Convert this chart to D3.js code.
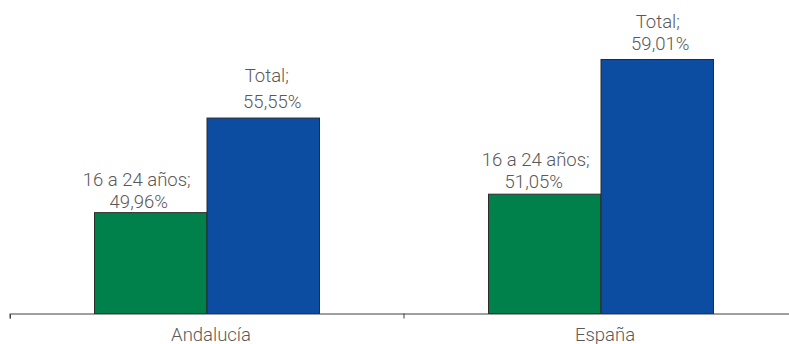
<!DOCTYPE html>
<html><head><meta charset="utf-8">
<script src="https://cdn.jsdelivr.net/npm/d3@7"></script>
<style>
html,body{margin:0;padding:0;background:#fff;}
svg text{font-family:Roboto,"Liberation Sans",Arial,sans-serif;font-weight:300;fill:#595959;}
</style></head>
<body><svg id="c" width="789" height="344"></svg>
<script>
// ---- data ----
const categories = ["Andalucía", "España"];
const seriesNames = ["16 a 24 años", "Total"];
const youthValues = [49.96, 51.05];
const totalValues = [55.55, 59.01];
const yDomain = [44, 62];

// ---- layout ----
const W = 789, H = 344;
const colors = {"16 a 24 años": "#00804a", "Total": "#0c4da2"};
// label nudges per bar: [dx line1, dx line2, gap above bar, line spacing]
const nudge = {
  "Andalucía|16 a 24 años": [-14, -12, 5, 22],
  "Andalucía|Total": [3.5, 9, 10, 26.5],
  "España|16 a 24 años": [-9, -11, 6, 22],
  "España|Total": [0.5, 3, 9, 22]
};
const fmt = v => d3.format(".2f")(v).replace(".", ",") + "%";

const rows = [];
categories.forEach((c, i) => {
  rows.push({cat: c, series: seriesNames[0], value: youthValues[i]});
  rows.push({cat: c, series: seriesNames[1], value: totalValues[i]});
});

const svg = d3.select("#c");
const x0 = d3.scaleBand().domain(categories).range([10, 798]).padding(0);
const x1 = d3.scaleBand().domain(seriesNames).range([84.5, 309.5]).padding(0);
const y = d3.scaleLinear().domain(yDomain).range([313.5, 8.9]);

svg.append("g").selectAll("rect").data(rows).join("rect")
  .attr("x", d => x0(d.cat) + x1(d.series))
  .attr("y", d => y(d.value))
  .attr("width", x1.bandwidth())
  .attr("height", d => y(yDomain[0]) - y(d.value))
  .attr("fill", d => colors[d.series])
  .attr("stroke", "#2b2b2b")
  .attr("stroke-width", 1);

// labels
const lg = svg.append("g").attr("font-size", 18.5).attr("text-anchor", "middle");
rows.forEach(d => {
  const n = nudge[d.cat + "|" + d.series];
  const cx = x0(d.cat) + x1(d.series) + x1.bandwidth() / 2;
  const base = y(d.value) - n[2];
  lg.append("text").attr("x", cx + n[0]).attr("y", base - n[3]).text(d.series + ";");
  lg.append("text").attr("x", cx + n[1]).attr("y", base).text(fmt(d.value));
});

// axis
const axis = d3.axisBottom(x0).tickSize(5).tickSizeOuter(5).tickFormat(() => "");
const ag = svg.append("g").attr("transform", "translate(0,313.5)").call(axis);
ag.select(".domain").attr("stroke", "#404040");
ag.selectAll(".tick").remove();
// boundary ticks between categories
const bounds = [x0.range()[0], x0(categories[1])];
ag.selectAll("line.b").data(bounds).join("line").attr("class", "b")
  .attr("x1", d => d).attr("x2", d => d).attr("y1", 0).attr("y2", 5)
  .attr("stroke", "#404040");
ag.selectAll("text.cat").data(categories).join("text").attr("class", "cat")
  .attr("x", d => x0(d) + x0.bandwidth() / 2 + 4)
  .attr("y", 27.5)
  .attr("text-anchor", "middle")
  .attr("font-size", 18.5)
  .text(d => d);
</script></body></html>
